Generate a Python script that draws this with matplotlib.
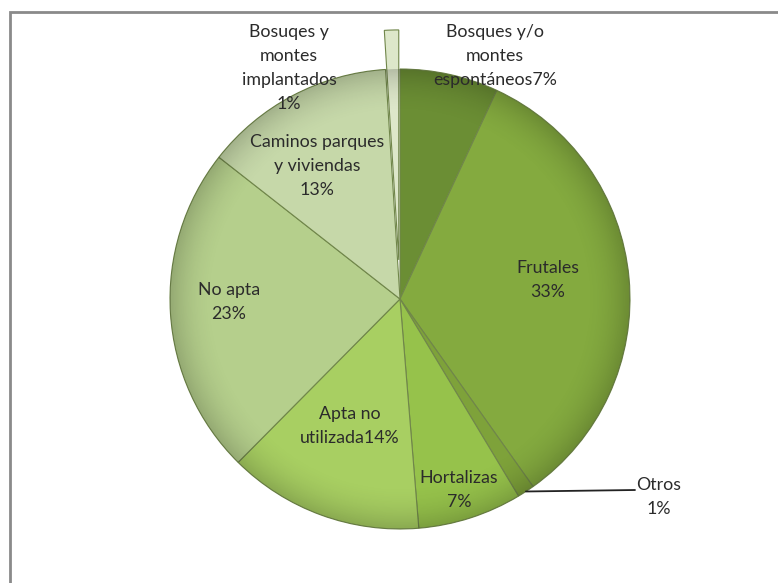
import matplotlib as mpl
mpl.use("Agg")
import matplotlib.pyplot as plt
from matplotlib.patches import Rectangle, Circle
import numpy as np

# uso del suelo (% de superficie), en sentido horario desde las 12
categories = ["Bosques y/o\nmontes\nespontáneos", "Frutales", "Otros", "Hortalizas",
              "Apta no\nutilizada", "No apta", "Caminos parques\ny viviendas",
              "Bosuqes y\nmontes\nimplantados"]
values = [6.9, 33.2, 1.2, 7.3, 13.7, 23.1, 13.4, 1.0]
pct_sep = ["", "\n", "\n", "\n", "", "\n", "\n", "\n"]
explode = [0, 0, 0, 0, 0, 0, 0, 0.17]
colors = ["#6b8e34", "#84aa3f", "#7ea23a", "#96c24b",
          "#a8cf62", "#b5cf8c", "#c6d8a9", "#dde7ca"]

W, H = 778, 583
CX, CY, R = 400, 299, 230  # pixel geometry of the pie
LINE = 24                  # label line pitch, px

# label anchor (centre x, first-line centre y) in pixels
label_pos = [(495, 32), (548, 268), (659, 485), (459, 478),
             (350, 414), (229, 290), (317, 142), (289, 32)]

plt.rcParams["font.family"] = ["Lato", "DejaVu Sans"]

fig = plt.figure(figsize=(W / 100, H / 100), dpi=100)
fig.patch.set_facecolor("white")

# chart frame (runs off the right and bottom of the picture)
fig.patches.append(Rectangle((9.5 / W, -0.1), 1.2, 1.1 - 12.5 / H, transform=fig.transFigure,
                             fill=False, edgecolor="#8a8a8a", lw=2.0))

ax = fig.add_axes([(CX - R) / W, (H - CY - R) / H, 2 * R / W, 2 * R / H])

wedges, _ = ax.pie(values, colors=colors, startangle=90, counterclock=False,
                   explode=explode, radius=1.0,
                   wedgeprops=dict(edgecolor="#70864a", linewidth=0.8))
ax.set_xlim(-1, 1)
ax.set_ylim(-1, 1)
ax.axis("off")
for w in wedges:
    w.set_clip_on(False)

# soft darkening towards the rim, like the bevelled office pie
g = np.linspace(-1, 1, 400)
gx, gy = np.meshgrid(g, g)
rr = np.hypot(gx, gy)
shade = np.zeros((400, 400, 4))
shade[..., 3] = np.clip((rr - 0.80) / 0.20, 0, 1) ** 2 * 0.18
im = ax.imshow(shade, extent=(-1, 1, -1, 1), origin="lower", zorder=3)
im.set_clip_path(Circle((0, 0), 1.0, transform=ax.transData))


def px(x, y):
    return x / W, 1 - y / H


for cat, v, sep, (lx, ly) in zip(categories, values, pct_sep, label_pos):
    txt = f"{cat}{sep}{v:.0f}%"
    n = txt.count("\n")
    fig.text(*px(lx, ly + n * LINE / 2), txt, ha="center", va="center", fontsize=12.8,
             color="#2b2b2b", linespacing=1.62)

# leader line for "Otros"
w_otros = wedges[2]
mid = np.deg2rad((w_otros.theta1 + w_otros.theta2) / 2)
ax.annotate("", xy=(np.cos(mid), np.sin(mid)), xycoords="data",
            xytext=px(635, 490), textcoords="figure fraction",
            arrowprops=dict(arrowstyle="-", color="#222222", lw=1.3,
                            shrinkA=0, shrinkB=0))

fig.savefig("out.png", dpi=100)
